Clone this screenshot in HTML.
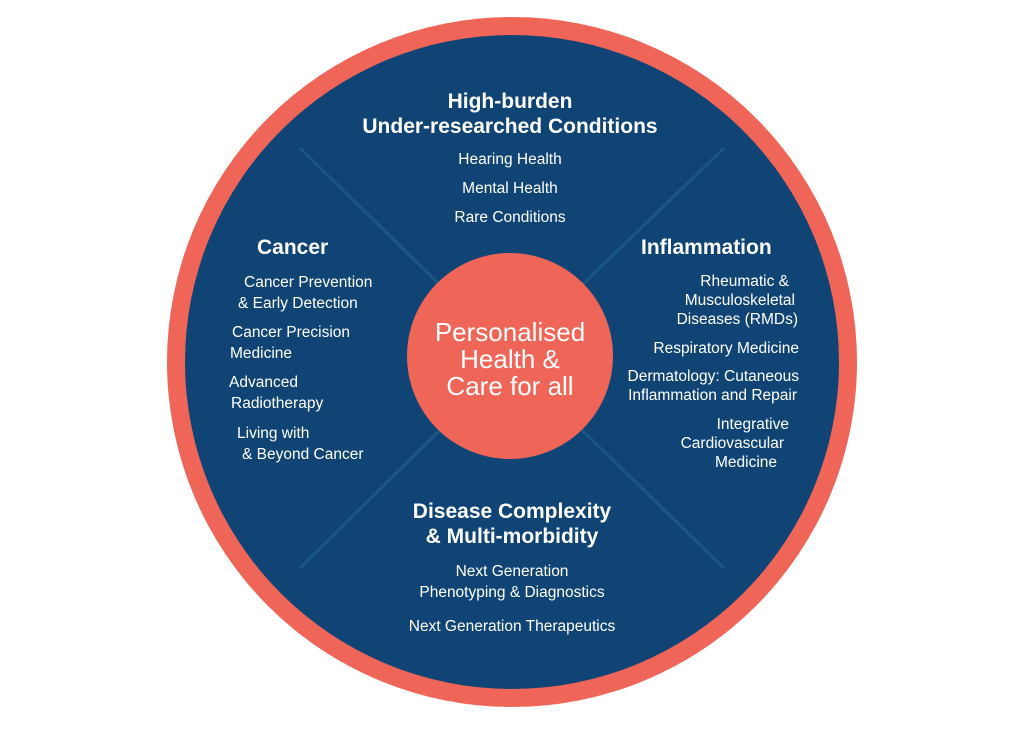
<!DOCTYPE html>
<html><head><style>
body{margin:0;background:#fff;}
svg text{font-family:"Liberation Sans",sans-serif;fill:#fff;}
.h{font-size:21px;font-weight:bold;}
.i{font-size:15.5px;}
</style></head><body>
<svg width="1024" height="724" viewBox="0 0 1024 724">
<circle cx="512" cy="362" r="345" fill="#ef6558"/>
<circle cx="512" cy="362" r="327" fill="#104474"/>
<g stroke="#1a5683" stroke-width="3">
<line x1="300" y1="148" x2="440" y2="285"/>
<line x1="724" y1="148" x2="582" y2="285"/>
<line x1="300" y1="568" x2="440" y2="430"/>
<line x1="724" y1="568" x2="582" y2="430"/>
</g>
<circle cx="510" cy="356" r="103" fill="#ef6558"/>
<g text-anchor="middle">
<text x="510" y="341" style="font-size:26px">Personalised</text>
<text x="510" y="368" style="font-size:26px">Health &amp;</text>
<text x="510" y="395" style="font-size:26px">Care for all</text>
<text class="h" x="510" y="108">High-burden</text>
<text class="h" x="510" y="133">Under-researched Conditions</text>
<text class="i" x="510" y="164">Hearing Health</text>
<text class="i" x="510" y="193">Mental Health</text>
<text class="i" x="510" y="222">Rare Conditions</text>
<text class="h" x="512" y="518">Disease Complexity</text>
<text class="h" x="512" y="543">&amp; Multi-morbidity</text>
<text class="i" x="512" y="576">Next Generation</text>
<text class="i" x="512" y="597">Phenotyping &amp; Diagnostics</text>
<text class="i" x="512" y="631">Next Generation Therapeutics</text>
</g>
<text class="h" x="257" y="254">Cancer</text>
<text class="i" x="244" y="287">Cancer Prevention</text>
<text class="i" x="238" y="308">&amp; Early Detection</text>
<text class="i" x="232" y="337">Cancer Precision</text>
<text class="i" x="230" y="358">Medicine</text>
<text class="i" x="229" y="387">Advanced</text>
<text class="i" x="231" y="408">Radiotherapy</text>
<text class="i" x="237" y="438">Living with</text>
<text class="i" x="242" y="459">&amp; Beyond Cancer</text>
<text class="h" x="641" y="254">Inflammation</text>
<g text-anchor="end">
<text class="i" x="789" y="286">Rheumatic &amp;</text>
<text class="i" x="795" y="305">Musculoskeletal</text>
<text class="i" x="798" y="324">Diseases (RMDs)</text>
<text class="i" x="799" y="353">Respiratory Medicine</text>
<text class="i" x="799" y="381">Dermatology: Cutaneous</text>
<text class="i" x="797" y="400">Inflammation and Repair</text>
<text class="i" x="789" y="429">Integrative</text>
<text class="i" x="784" y="448">Cardiovascular</text>
<text class="i" x="777" y="467">Medicine</text>
</g>
</svg>
</body></html>
